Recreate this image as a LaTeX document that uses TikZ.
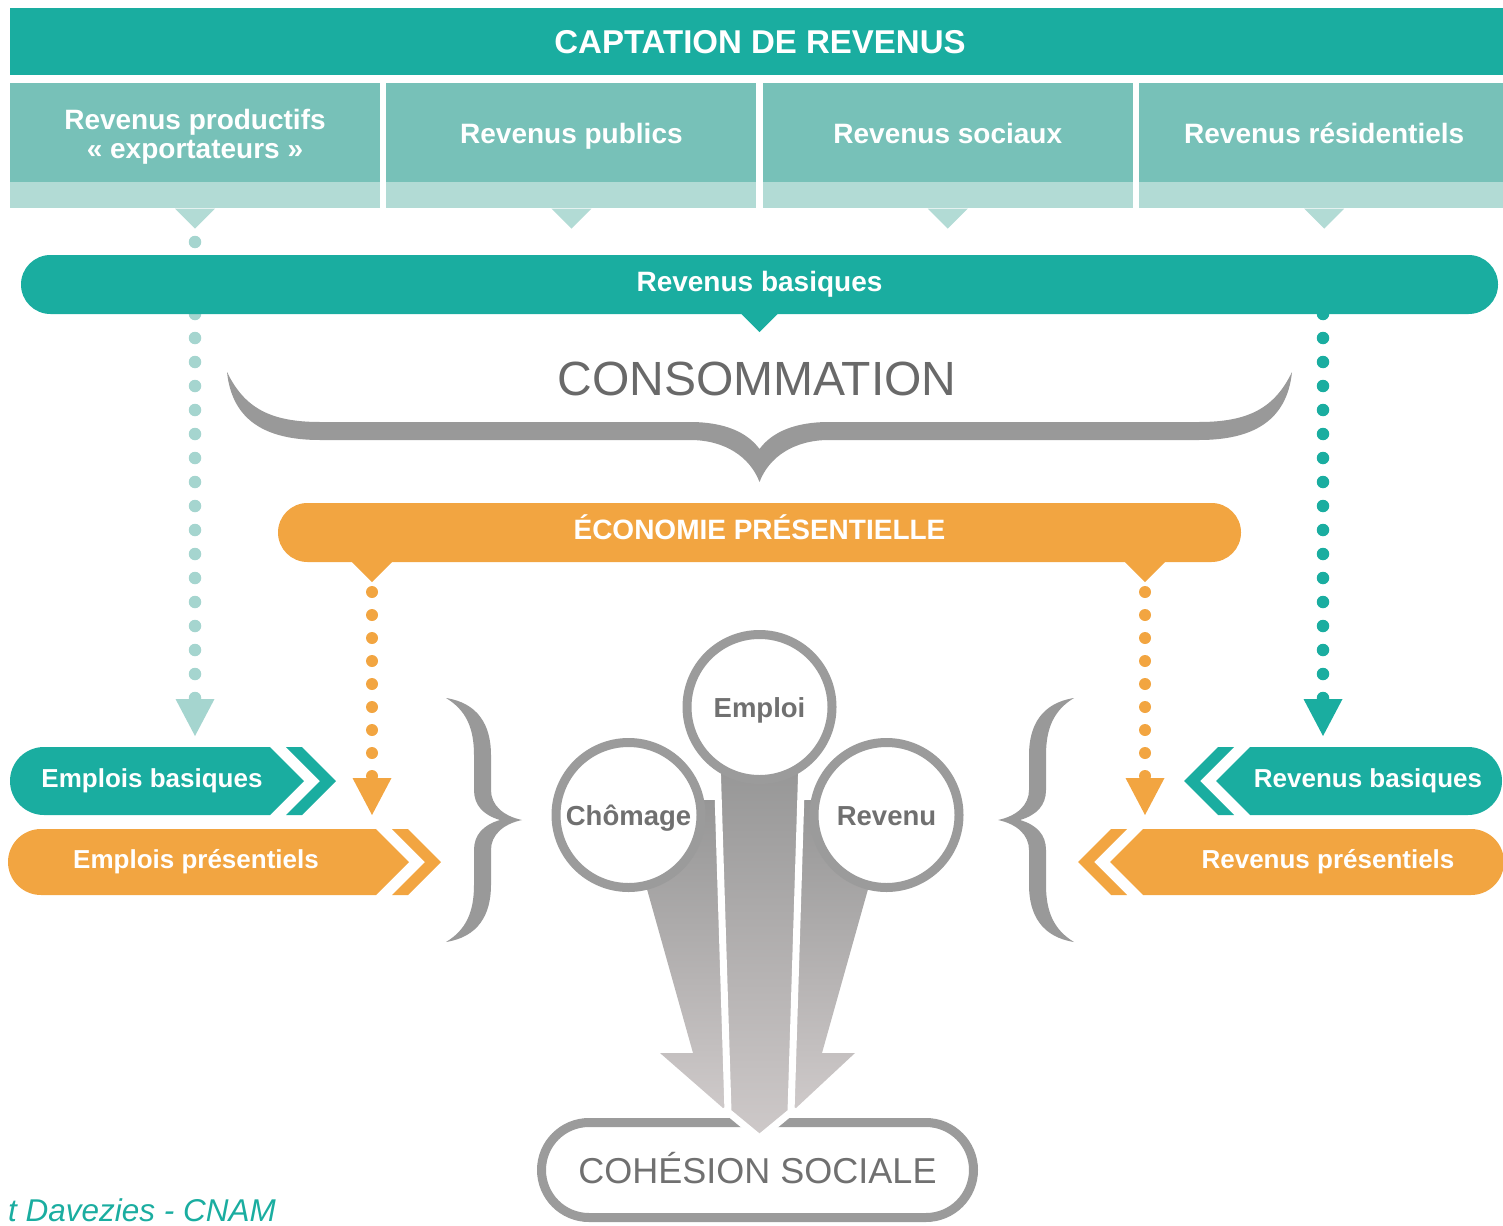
\documentclass[tikz,border=0pt]{standalone}
\usepackage{fontspec}
\setmainfont{Liberation Sans}
\usepackage{xcolor}
\definecolor{captteal}{RGB}{26,173,160}
\definecolor{colteal}{RGB}{119,193,184}
\definecolor{stripteal}{RGB}{178,219,213}
\definecolor{dotteal}{RGB}{165,213,207}
\definecolor{presorange}{RGB}{242,165,65}
\definecolor{bracegray}{RGB}{153,153,153}
\definecolor{ringgray}{RGB}{155,155,155}
\definecolor{labelgray}{RGB}{112,112,112}
\definecolor{titlegray}{RGB}{105,105,105}
\definecolor{arrowtop}{RGB}{150,150,150}
\definecolor{arrowbot}{RGB}{206,201,201}
\usetikzlibrary{calc}
\usetikzlibrary{positioning}
\usetikzlibrary{arrows.meta}
\usetikzlibrary{shadings}

\begin{document}
\begin{tikzpicture}[x=1pt,y=-1pt,
      head style/.style={rectangle,fill=captteal,text=white,inner sep=0pt,
        minimum width=1500pt,minimum height=67pt,text height=24pt,text depth=0pt,
        font=\bfseries\fontsize{33}{40}\selectfont},
      col style/.style={rectangle,fill=colteal,text=white,inner sep=0pt,
        minimum width=370pt,minimum height=99pt,align=center,
        font=\bfseries\fontsize{28}{29}\selectfont},
      one line/.style={text height=29pt,text depth=6pt},
      strip style/.style={rectangle,fill=stripteal,inner sep=0pt,
        minimum width=370pt,minimum height=26pt},
      bar style/.style={rectangle,rounded corners=29.5pt,inner sep=0pt,
        minimum height=59pt,text=white,text height=20pt,text depth=6pt,
        font=\bfseries\fontsize{28}{34}\selectfont},
      band text/.style={text=white,inner sep=0pt,text height=19pt,text depth=7pt,
        font=\bfseries\fontsize{26}{30}\selectfont},
      ring style/.style={circle,draw=ringgray,line width=9pt,fill=white,
        minimum size=145pt,inner sep=0pt,text=labelgray,text height=20pt,
        text depth=0pt,font=\bfseries\fontsize{27.5}{32}\selectfont},
      dot line/.style={line width=12.5pt,line cap=round,dash pattern=on 0pt off 24pt,
        -{Triangle[width=39pt,length=37pt,line width=0pt]}},
      pres dot line/.style={line width=12pt,line cap=round,dash pattern=on 0pt off 23pt,
        -{Triangle[width=39pt,length=37pt,line width=0pt]}},
      arrow shade/.style={top color=arrowtop,bottom color=arrowbot}
      ]
      \useasboundingbox (0,0) rectangle (1503,1225);
      \clip (0,0) rectangle (1503,1225);

      \node[head style] (capt) at (760,41.5) {CAPTATION DE REVENUS};

      \node[col style, text height=59pt, text depth=6pt] (prod) at (195,132.5) {Revenus productifs\\« exportateurs »};
      \node[col style, one line, right=6pt of prod] (pub) {Revenus publics};
      \node[col style, one line, right=6pt of pub] (soc) {Revenus sociaux};
      \node[col style, one line, right=6pt of soc] (resi) {Revenus résidentiels};

      \node[strip style, below=0pt of prod] (prodstrip) {};
      \node[strip style, below=0pt of pub] (pubstrip) {};
      \node[strip style, below=0pt of soc] (socstrip) {};
      \node[strip style, below=0pt of resi] (resistrip) {};
      \fill[stripteal] (prodstrip.south) ++(-20,0) -- ++(20,20) -- ++(20,-20) -- cycle;
      \fill[stripteal] (pubstrip.south) ++(-20,0) -- ++(20,20) -- ++(20,-20) -- cycle;
      \fill[stripteal] (socstrip.south) ++(-20,0) -- ++(20,20) -- ++(20,-20) -- cycle;
      \fill[stripteal] (resistrip.south) ++(-20,0) -- ++(20,20) -- ++(20,-20) -- cycle;

      \coordinate (prodstart) at (195,242);
      \coordinate (prodend) at (195,736);
      \coordinate (resistart) at (1323,314);
      \coordinate (resiend) at (1323,736);
      \draw[dot line, dotteal] (prodstart) -- (prodend);
      \draw[dot line, captteal] (resistart) -- (resiend);

      \node[bar style, fill=captteal, minimum width=1477pt] (basbar) at (759.5,284.5) {Revenus basiques};
      \fill[captteal] (basbar.south) ++(-18,0) -- ++(18,18) -- ++(18,-18) -- cycle;

      \node[inner sep=0pt, text=titlegray, text height=35pt, text depth=0pt,
        font=\fontsize{48}{56}\selectfont] (conso) at (757,378) {CONSOMMATION};
      \fill[bracegray] (227,372) .. controls (232,420) and (265,440) .. (320,440) -- (690,440)
        .. controls (725,440) and (750,457) .. (759.5,482) .. controls (769,457) and (794,440) .. (829,440)
        -- (1199,440) .. controls (1254,440) and (1287,420) .. (1292,372)
        .. controls (1275,407) and (1250,422) .. (1199,422) -- (829,422)
        .. controls (795,422) and (772,432) .. (759.5,449) .. controls (747,432) and (724,422) .. (690,422)
        -- (320,422) .. controls (269,422) and (244,407) .. (227,372) -- cycle;

      \node[bar style, fill=presorange, minimum width=963pt] (ecobar) at (759.5,532.5) {ÉCONOMIE PRÉSENTIELLE};
      \fill[presorange] (ecobar.south) ++(-407.5,0) -- ++(20,20) -- ++(20,-20) -- cycle;
      \fill[presorange] (ecobar.south) ++(365.5,0) -- ++(20,20) -- ++(20,-20) -- cycle;

      \coordinate (ecoLstart) at (372,592);
      \coordinate (ecoLend) at (372,815);
      \coordinate (ecoRstart) at (1145,592);
      \coordinate (ecoRend) at (1145,815);
      \draw[pres dot line, presorange] (ecoLstart) -- (ecoLend);
      \draw[pres dot line, presorange] (ecoRstart) -- (ecoRend);

      \fill[captteal] (270,747) -- (304,781) -- (270,815) -- (44,815) arc[start angle=90,end angle=270,radius=34] -- cycle;
      \fill[captteal] (286,747) -- (302,747) -- (336,781) -- (302,815) -- (286,815) -- (320,781) -- cycle;
      \node[band text] (empbas) at (152,781) {Emplois basiques};

      \fill[presorange] (376,829) -- (409,862) -- (376,895) -- (41,895) arc[start angle=90,end angle=270,radius=33] -- cycle;
      \fill[presorange] (392,829) -- (408,829) -- (441,862) -- (408,895) -- (392,895) -- (425,862) -- cycle;
      \node[band text] (emppres) at (196,862) {Emplois présentiels};

      \fill[captteal] (1250,747) -- (1468,747) arc[start angle=270,end angle=450,radius=34] -- (1250,815) -- (1216,781) -- cycle;
      \fill[captteal] (1234,747) -- (1218,747) -- (1184,781) -- (1218,815) -- (1234,815) -- (1200,781) -- cycle;
      \node[band text] (revbas) at (1368,781) {Revenus basiques};

      \fill[presorange] (1143,829) -- (1471,829) arc[start angle=270,end angle=450,radius=33] -- (1143,895) -- (1110,862) -- cycle;
      \fill[presorange] (1127,829) -- (1111,829) -- (1078,862) -- (1111,895) -- (1127,895) -- (1094,862) -- cycle;
      \node[band text] (revpres) at (1328,862) {Revenus présentiels};

      \fill[bracegray] (446,698) .. controls (478,703) and (491,725) .. (491,755) -- (491,790)
        .. controls (491,805) and (503,816) .. (522,820) .. controls (503,824) and (491,835) .. (491,850)
        -- (491,885) .. controls (491,915) and (478,937) .. (446,942)
        .. controls (466,930) and (474,912) .. (474,885) -- (474,850)
        .. controls (474,835) and (483,825) .. (500,820) .. controls (483,815) and (474,805) .. (474,790)
        -- (474,755) .. controls (474,728) and (466,710) .. (446,698) -- cycle;
      \begin{scope}[xshift=1520pt,xscale=-1]
        \fill[bracegray] (446,698) .. controls (478,703) and (491,725) .. (491,755) -- (491,790)
          .. controls (491,805) and (503,816) .. (522,820) .. controls (503,824) and (491,835) .. (491,850)
          -- (491,885) .. controls (491,915) and (478,937) .. (446,942)
          .. controls (466,930) and (474,912) .. (474,885) -- (474,850)
          .. controls (474,835) and (483,825) .. (500,820) .. controls (483,815) and (474,805) .. (474,790)
          -- (474,755) .. controls (474,728) and (466,710) .. (446,698) -- cycle;
      \end{scope}

      \node[draw=ringgray, line width=9pt, fill=white, rounded corners=47.5pt, minimum width=432pt,
        minimum height=95pt, inner sep=0pt, text=labelgray, text height=26pt, text depth=0pt,
        font=\fontsize{36}{42}\selectfont] (cohesion) at (757.5,1170) {COHÉSION SOCIALE};

      \path[arrow shade] (627,818) -- (693,1053) -- (660,1053) -- (723,1108) -- (740,1100) -- (740,800) -- (700,800) -- cycle;
      \path[arrow shade] (888,818) -- (822,1053) -- (855,1053) -- (796,1108) -- (775,1100) -- (775,800) -- (815,800) -- cycle;
      \path[arrow shade, draw=white, line width=7pt] (717,760) -- (728,1112) -- (759.5,1138) -- (791,1112) -- (802,760) -- cycle;

      \node[ring style] (emploi) at (759.5,707) {Emploi};
      \node[ring style] (chomage) at (628.5,815) {Chômage};
      \node[ring style] (revenu) at (886.5,815) {Revenu};

      \node[anchor=base west, inner sep=0pt, text=captteal,
        font=\itshape\fontsize{31.5}{36}\selectfont] (credit) at (8,1221) {t Davezies - CNAM};
    \end{tikzpicture}
\end{document}
